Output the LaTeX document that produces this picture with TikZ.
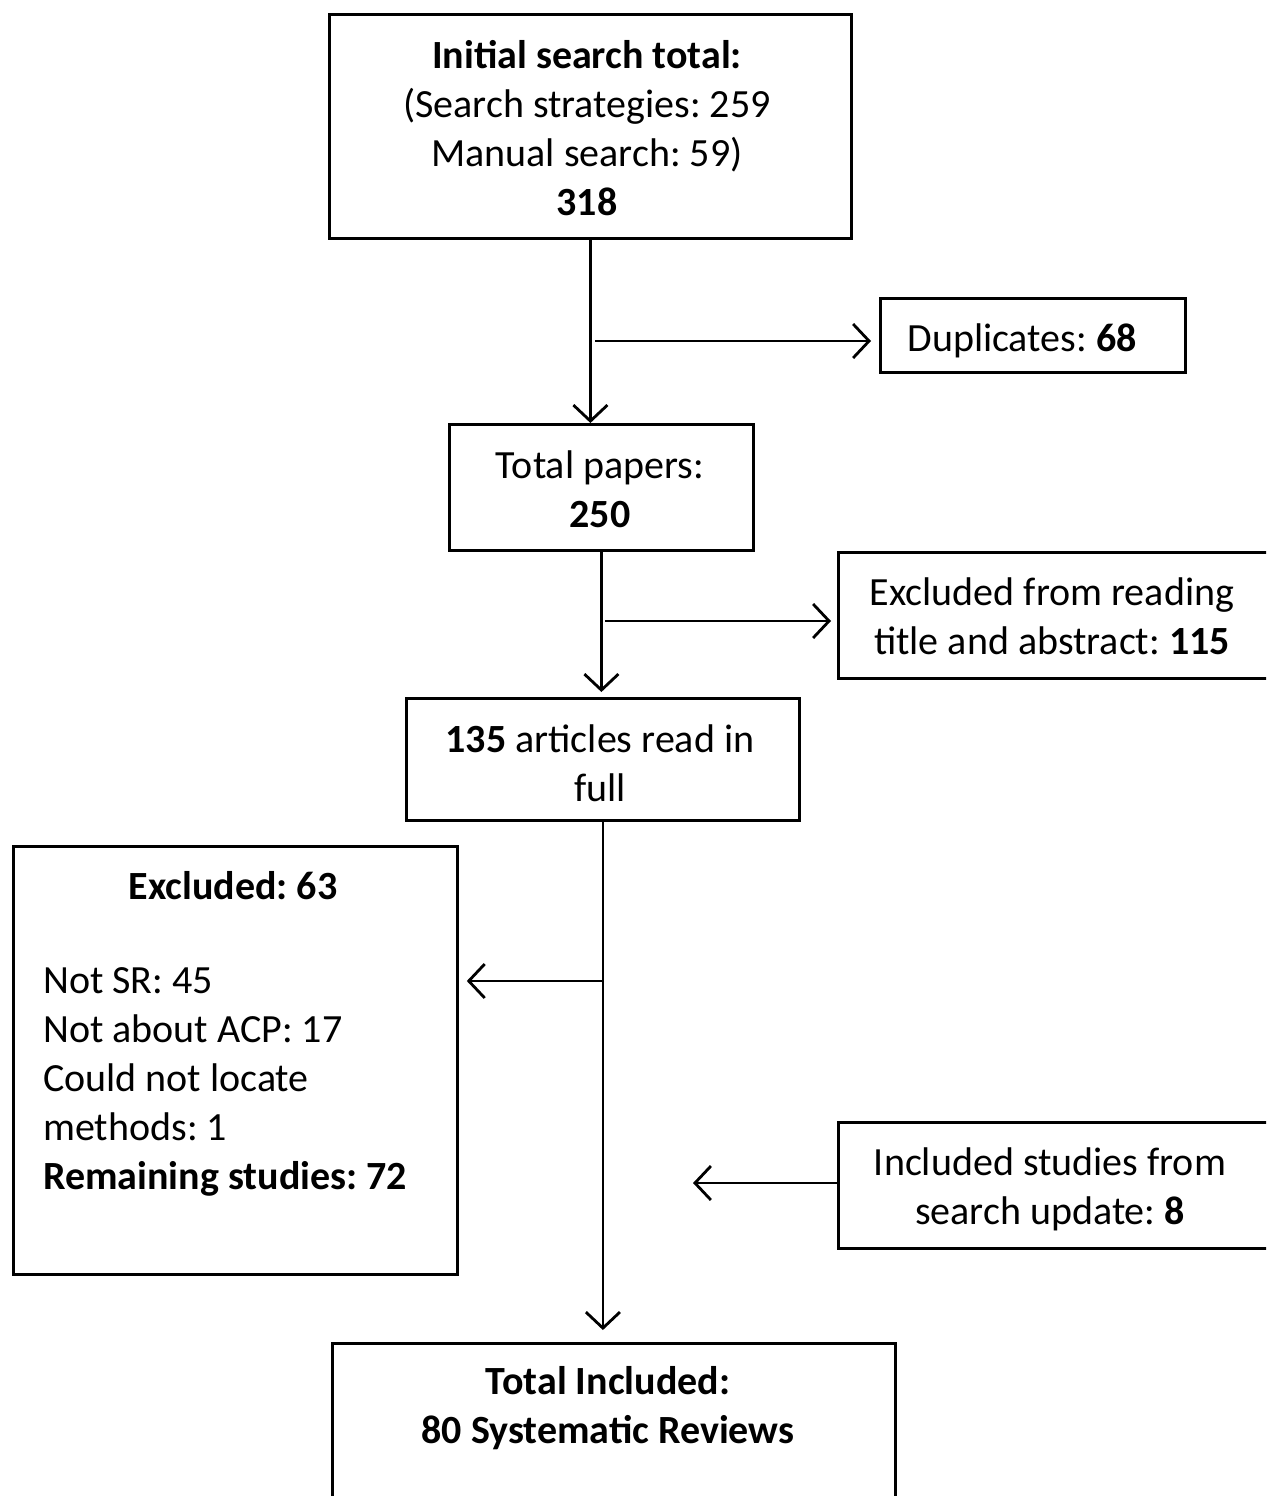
\documentclass[tikz,border=0pt]{standalone}
\usepackage{fontspec}
\setmainfont{Carlito}
\usetikzlibrary{arrows.meta}
\frenchspacing
\begin{document}
\begin{tikzpicture}[x=1pt,y=-1pt,
 box/.style={draw,line width=2.8pt,inner sep=0pt,anchor=north west},
 txt/.style={align=center,anchor=base,inner sep=0pt,font=\fontsize{40}{49}\selectfont},
 ltxt/.style={align=left,anchor=base west,inner sep=0pt,font=\fontsize{40}{49}\selectfont},
 arr/.style={line width=2.8pt,-{Straight Barb[length=16pt,width=34pt,line width=2.8pt]}}]
\useasboundingbox (0,0) rectangle (1266,1496);
\clip (0,0) rectangle (1266,1496);
% boxes
\node[box,minimum width=522pt,minimum height=224pt] (b1) at (328,13) {};
\node[box,minimum width=305pt,minimum height=74pt] (dup) at (879,297) {};
\node[box,minimum width=304pt,minimum height=126pt] (b2) at (448,423) {};
\node[box,minimum width=430pt,minimum height=126pt] (exr) at (837,551) {};
\node[box,minimum width=393pt,minimum height=122pt] (b3) at (405,697) {};
\node[box,minimum width=444pt,minimum height=428pt] (exl) at (12,845) {};
\node[box,minimum width=430pt,minimum height=126pt] (inc) at (837,1121) {};
\node[box,minimum width=563pt,minimum height=200pt] (fin) at (331,1342) {};
% texts (anchor = baseline of last line)
\node[txt] (t1) at (587,215) {\textbf{Initial search total:}\\(Search strategies: 259\\Manual search: 59)\\\textbf{318}};
\node[txt] (tdup) at (1022,351) {Duplicates: \textbf{68}};
\node[txt] (t2) at (600,527) {Total papers:\\\textbf{250}};
\node[txt] (texr) at (1052,654) {Excluded from reading\\title and abstract: \textbf{115}};
\node[txt] (t3) at (600,801) {\textbf{135} articles read in\\full};
\node[txt] (texl) at (233,899) {\textbf{Excluded: 63}};
\node[ltxt] (texl2) at (43,1189) {Not SR: 45\\Not about ACP: 17\\Could not locate\\methods: 1\\\textbf{Remaining studies: 72}};
\node[txt] (tinc) at (1050,1224) {Included studies from\\search update: \textbf{8}};
\node[txt] (tfin) at (608,1443) {\textbf{Total Included:}\\\textbf{80 Systematic Reviews}};
% connectors
\draw[arr] (b1.south) -- (b1.south |- b2.north);
\coordinate (d0) at (595,341);
\draw[arr,shorten >=8pt] (d0) -- (d0 -| dup.west);
\draw[arr,shorten >=5pt] (b2.south) -- (b2.south |- b3.north);
\coordinate (e0) at (605,621);
\draw[arr,shorten >=6pt] (e0) -- (e0 -| exr.west);
\draw[arr,shorten >=12pt] (b3.south) -- (b3.south |- fin.north);
\coordinate (l0) at (604,981);
\draw[arr,shorten >=8pt] (l0) -- (l0 -| exl.east);
\coordinate (i0) at (693,1183);
\draw[arr] (inc.west |- i0) -- (i0);
\end{tikzpicture}
\end{document}
